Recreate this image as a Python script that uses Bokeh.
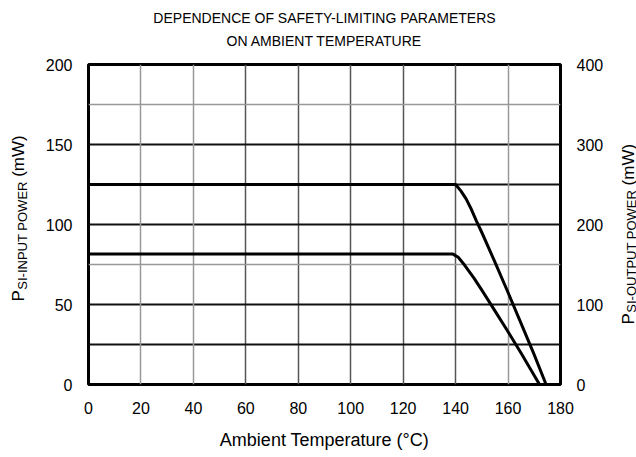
import math
from bokeh.plotting import figure
from bokeh.layouts import row, column
from bokeh.models import Range1d, LinearAxis, FixedTicker, Grid
from bokeh.embed import file_html
from bokeh.resources import INLINE

# ---- data ----
title_lines = ["DEPENDENCE OF SAFETY-LIMITING PARAMETERS", "ON AMBIENT TEMPERATURE"]
x_label = "Ambient Temperature (°C)"
left_label = ["P", "SI-INPUT POWER", "(mW)"]
right_label = ["P", "SI-OUTPUT POWER", "(mW)"]
x_ticks = [0, 20, 40, 60, 80, 100, 120, 140, 160, 180]
left_ticks = [0, 50, 100, 150, 200]
right_ticks = [0, 100, 200, 300, 400]

# input power (left axis, mW)
temp_input = [0, 139, 141, 143, 145, 147, 150, 155, 160, 165, 172]
input_power = [81.5, 81.5, 79.5, 75.5, 71, 66.5, 59, 46, 33, 19.5, 0]
# output power (right axis, mW)
temp_output = [0, 140, 142, 144, 146, 148, 150, 155, 160, 165, 170, 174.5]
output_power = [250, 250, 242, 232, 219, 204, 190, 153, 115, 76, 37, 0]

FONT = "Liberation Sans"
PAGE_W, PAGE_H = 636, 457
SIDE_W = 30
TOP_H = 56
MAIN_W = PAGE_W - 2 * SIDE_W
MAIN_H = PAGE_H - TOP_H


def blank_fig(w, h):
    f = figure(width=w, height=h, x_range=Range1d(0, w), y_range=Range1d(0, h),
               output_backend="svg", toolbar_location=None,
               x_axis_location=None, y_axis_location=None,
               min_border_left=0, min_border_right=0, min_border_top=0, min_border_bottom=0)
    f.grid.visible = False
    f.outline_line_color = None
    f.background_fill_color = "white"
    f.border_fill_color = "white"
    return f


# ---- main chart ----
p = figure(width=MAIN_W, height=MAIN_H, x_range=Range1d(0, 180), y_range=Range1d(0, 200),
           output_backend="svg", toolbar_location=None,
           min_border_left=88 - SIDE_W, min_border_right=MAIN_W + SIDE_W - 560,
           min_border_top=64 - TOP_H, min_border_bottom=73)
p.extra_y_ranges = {"out": Range1d(0, 400)}
p.add_layout(LinearAxis(y_range_name="out"), "right")

p.xaxis.ticker = FixedTicker(ticks=x_ticks)
p.yaxis[0].ticker = FixedTicker(ticks=left_ticks)
p.yaxis[1].ticker = FixedTicker(ticks=right_ticks)
for ax in p.axis:
    ax.axis_line_color = None
    ax.major_tick_line_color = None
    ax.minor_tick_line_color = None
    ax.major_label_text_font = FONT
    ax.major_label_text_font_size = "16px"
    ax.major_label_text_color = "#000000"
    ax.major_label_standoff = 10
p.xaxis.major_label_standoff = 11

p.xaxis.axis_label = x_label
p.xaxis.axis_label_text_font = FONT
p.xaxis.axis_label_text_font_size = "18px"
p.xaxis.axis_label_text_font_style = "normal"
p.xaxis.axis_label_text_color = "#000000"
p.xaxis.axis_label_standoff = 13

p.outline_line_color = "black"
p.outline_line_width = 3
p.background_fill_color = "white"
p.border_fill_color = "white"

# grids
p.xgrid.ticker = FixedTicker(ticks=[60, 80, 100, 120, 140])
p.xgrid.grid_line_color = "#555555"
p.xgrid.grid_line_width = 1.5
p.add_layout(Grid(dimension=0, ticker=FixedTicker(ticks=[20, 40, 160]),
                  grid_line_color="#999999", grid_line_width=1.5))
p.ygrid.ticker = FixedTicker(ticks=[25, 50, 100, 125, 150])
p.ygrid.grid_line_color = "#111111"
p.ygrid.grid_line_width = 2
p.add_layout(Grid(dimension=1, ticker=FixedTicker(ticks=[75, 175]),
                  grid_line_color="#999999", grid_line_width=1.5))

p.line(temp_input, input_power, line_color="black", line_width=3, line_join="round")
p.line(temp_output, output_power, line_color="black", line_width=3, line_join="round",
       y_range_name="out")

# ---- title panel ----
top = blank_fig(MAIN_W, TOP_H)
top.text(x=[MAIN_W / 2, MAIN_W / 2], y=[TOP_H - 17, TOP_H - 40], text=title_lines,
         text_font={"value": FONT}, text_font_size="14px", text_color="black",
         text_align="center", text_baseline="middle")

# ---- side panels holding the vertical axis titles (P with subscript) ----
A = math.pi / 2
# approximate Liberation Sans advance widths (em) for laying out the pieces
W = {"P": .667, "S": .667, "I": .278, "-": .333, "N": .722, "U": .722, "T": .611,
     " ": .278, "O": .778, "W": .944, "E": .667, "R": .722, "(": .333, ")": .333,
     "m": .833}


def tw(s, size):
    return sum(W.get(c, .6) for c in s) * size


def side_fig(pieces, base_x, sub_x, bottom_y):
    f = blank_fig(SIDE_W, PAGE_H)
    big, small = 17, 13
    y0 = PAGE_H - bottom_y
    y1 = y0 + tw(pieces[0], big) + 0.5
    y2 = y1 + tw(pieces[1], small) + 4.5
    for txt, x, y, s in ((pieces[0], base_x, y0, big), (pieces[1], sub_x, y1, small),
                         (pieces[2], base_x, y2, big)):
        f.text(x=[x], y=[y], text=[txt], angle=A, text_font_size=f"{s}px",
               text_font={"value": FONT}, text_color="black", text_align="left",
               text_baseline="alphabetic")
    return f


left_fig = side_fig(left_label, 18, 22, 301)
off = SIDE_W + MAIN_W
right_fig = side_fig(right_label, 628 - off, 631 - off, 324)

layout = row(left_fig, column(top, p), right_fig)
open("out.html", "w").write(file_html(layout, INLINE))
